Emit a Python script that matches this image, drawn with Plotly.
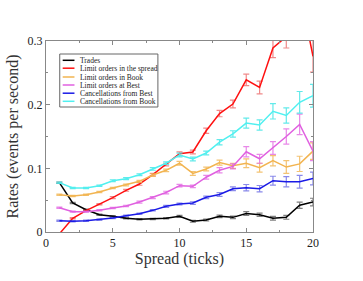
import plotly.graph_objects as go

spread = list(range(1, 21))

trades = [0.0775, 0.0455, 0.035, 0.027, 0.0246, 0.0215, 0.020, 0.0204, 0.0215, 0.0246,
          0.0168, 0.0188, 0.0246, 0.023, 0.029, 0.027, 0.0215, 0.023, 0.042, 0.047]
trades_err = [0.001, 0.001, 0.001, 0.001, 0.001, 0.001, 0.001, 0.001, 0.001, 0.0015,
              0.0015, 0.0015, 0.002, 0.002, 0.003, 0.0025, 0.003, 0.003, 0.005, 0.006]

lim_spread = [-0.003, 0.0215, 0.0335, 0.0435, 0.054, 0.0655, 0.0754, 0.090, 0.106, 0.123,
              0.1257, 0.159, 0.186, 0.201, 0.239, 0.227, 0.289, 0.307, 0.38, 0.276]
lim_spread_err = [0.001, 0.001, 0.001, 0.001, 0.0015, 0.0015, 0.002, 0.002, 0.002, 0.003,
                  0.003, 0.004, 0.005, 0.006, 0.009, 0.01, 0.015, 0.018, 0.022, 0.025]

lim_book = [0.0586, 0.0565, 0.0586, 0.0628, 0.069, 0.0738, 0.0796, 0.0895, 0.0969, 0.108,
            0.092, 0.099, 0.109, 0.104, 0.108, 0.101, 0.112, 0.102, 0.107, 0.127]
lim_book_err = [0.001, 0.001, 0.001, 0.001, 0.001, 0.0015, 0.0015, 0.002, 0.002, 0.003,
                0.003, 0.003, 0.004, 0.004, 0.007, 0.007, 0.008, 0.01, 0.012, 0.013]

lim_best = [0.038, 0.032, 0.032, 0.034, 0.0377, 0.041, 0.047, 0.054, 0.062, 0.0728,
            0.0717, 0.086, 0.097, 0.103, 0.126, 0.115, 0.132, 0.150, 0.169, 0.127]
lim_best_err = [0.001, 0.001, 0.001, 0.001, 0.001, 0.001, 0.0015, 0.0015, 0.002, 0.002,
                0.002, 0.003, 0.004, 0.004, 0.008, 0.007, 0.01, 0.012, 0.016, 0.015]

canc_best = [0.0178, 0.0168, 0.0178, 0.0194, 0.022, 0.0257, 0.0288, 0.034, 0.0403, 0.044,
             0.0455, 0.0545, 0.059, 0.068, 0.0696, 0.068, 0.0806, 0.079, 0.079, 0.084]
canc_best_err = [0.001, 0.001, 0.001, 0.001, 0.001, 0.001, 0.001, 0.001, 0.0015, 0.0015,
                 0.002, 0.002, 0.003, 0.003, 0.005, 0.005, 0.007, 0.008, 0.01, 0.01]

canc_book = [0.0775, 0.069, 0.069, 0.0728, 0.0806, 0.0838, 0.090, 0.099, 0.108, 0.121,
             0.1147, 0.124, 0.141, 0.154, 0.171, 0.168, 0.1895, 0.183, 0.2037, 0.214]
canc_book_err = [0.001, 0.001, 0.001, 0.001, 0.0015, 0.0015, 0.0015, 0.002, 0.002, 0.003,
                 0.003, 0.003, 0.004, 0.005, 0.008, 0.008, 0.012, 0.012, 0.017, 0.018]

names = ["Trades", "Limit orders in the spread", "Limit orders in Book",
         "Limit orders at Best", "Cancellations from Best", "Cancellations from Book"]
series = [trades, lim_spread, lim_book, lim_best, canc_best, canc_book]
errors = [trades_err, lim_spread_err, lim_book_err, lim_best_err, canc_best_err, canc_book_err]
colors = ["#000000", "#ff1010", "#f2b450", "#e060e0", "#1a1ae6", "#50f0f0"]
err_colors = ["rgba(0,0,0,0.5)", "rgba(230,60,60,0.6)", "rgba(240,180,80,0.8)",
              "rgba(224,96,224,0.75)", "rgba(60,60,220,0.6)", "rgba(70,230,230,0.85)"]

fig = go.Figure()
for nm, ys, es, c, ec in zip(names, series, errors, colors, err_colors):
    fig.add_trace(go.Scatter(
        x=spread, y=ys, mode="lines", name=nm,
        line=dict(color=c, width=1.5),
        error_y=dict(type="data", array=es, visible=True, color=ec, thickness=1.2, width=3),
        showlegend=False, cliponaxis=True))

W, H = 363, 281
L, R, T, B = 41, 313, 41, 232

def px(xp):
    return (xp - L) / (R - L)

def py(yp):
    return (B - yp) / (B - T)

shapes = [dict(type="rect", xref="paper", yref="paper",
               x0=px(55), x1=px(155), y0=py(107), y1=py(54),
               line=dict(color="#666666", width=1), fillcolor="white", layer="above")]
annotations = []
row_y = [60.3, 68.2, 77.0, 85.0, 93.2, 101.3]
for nm, c, ry in zip(names, colors, row_y):
    shapes.append(dict(type="line", xref="paper", yref="paper",
                       x0=px(58), x1=px(70), y0=py(ry), y1=py(ry),
                       line=dict(color=c, width=1.5), layer="above"))
    annotations.append(dict(xref="paper", yref="paper", x=px(74), y=py(ry),
                            xanchor="left", yanchor="middle", text=nm, showarrow=False,
                            font=dict(family="Liberation Serif", size=7.5, color="#222")))

fig.update_layout(
    width=W, height=H,
    margin=dict(l=L, r=W - R, t=T, b=H - B),
    paper_bgcolor="white", plot_bgcolor="white",
    font=dict(family="Liberation Serif", color="#222"),
    shapes=shapes, annotations=annotations,
    xaxis=dict(range=[0, 20], tickvals=[0, 5, 10, 15, 20], ticks="inside", ticklen=4,
               minor=dict(tickvals=[2.5, 7.5, 12.5, 17.5], ticks="inside", ticklen=2, tickcolor="#888"),
               showgrid=False, zeroline=False, showline=True, linecolor="#888", linewidth=1,
               mirror="allticks", tickcolor="#888", tickfont=dict(size=12),
               title=dict(text="Spread (ticks)", font=dict(size=16, color="#333"), standoff=2)),
    yaxis=dict(range=[0, 0.3], tickvals=[0, 0.1, 0.2, 0.3], ticktext=["0", "0.1", "0.2", "0.3"],
               ticks="inside", ticklen=4,
               minor=dict(tickvals=[0.05, 0.15, 0.25], ticks="inside", ticklen=2, tickcolor="#888"),
               showgrid=False, zeroline=False, showline=True, linecolor="#888", linewidth=1,
               mirror="allticks", tickcolor="#888", tickfont=dict(size=12),
               title=dict(text="Rates (events per second)", font=dict(size=16, color="#333"), standoff=4)),
)

fig.write_html("out.html", config={"displayModeBar": False},
               post_script="document.body.style.margin='0';document.body.style.padding='0';")
